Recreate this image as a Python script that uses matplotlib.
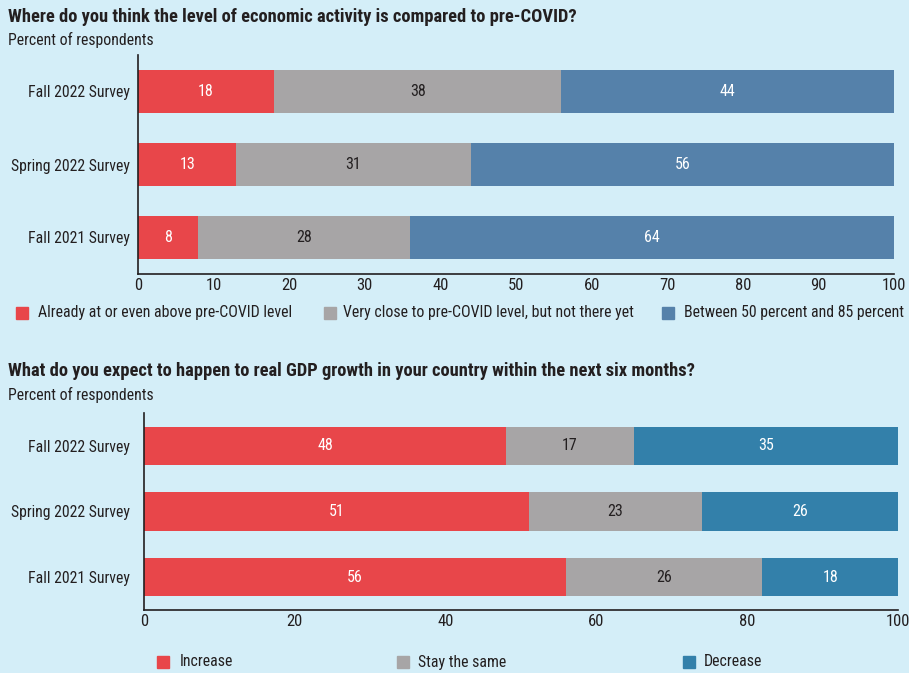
import matplotlib
matplotlib.use("Agg")
import matplotlib.pyplot as plt
from matplotlib import font_manager as fm

# ---------------- data ----------------
surveys = ["Fall 2021 Survey", "Spring 2022 Survey", "Fall 2022 Survey"]

top_title = "Where do you think the level of economic activity is compared to pre-COVID?"
top_labels = ["Already at or even above pre-COVID level",
              "Very close to pre-COVID level, but not there yet",
              "Between 50 percent and 85 percent"]
top_already = [8, 13, 18]
top_close = [28, 31, 38]
top_between = [64, 56, 44]
top_ticks = [0, 10, 20, 30, 40, 50, 60, 70, 80, 90, 100]

bot_title = "What do you expect to happen to real GDP growth in your country within the next six months?"
bot_labels = ["Increase", "Stay the same", "Decrease"]
bot_increase = [56, 51, 48]
bot_same = [26, 23, 17]
bot_decrease = [18, 26, 35]
bot_ticks = [0, 20, 40, 60, 80, 100]

subtitle = "Percent of respondents"

# ---------------- style ----------------
BG = "#D4EEF8"
RED = "#E8464A"
GRAY = "#A7A5A6"
BLUE1 = "#5581AA"
BLUE2 = "#3380AA"
TXT = "#231F20"

names = {f.name for f in fm.fontManager.ttflist}
cond = None
for cand in ["Roboto Condensed", "Liberation Sans Narrow", "DejaVu Sans Condensed",
             "Open Sans Condensed", "Noto Sans Condensed"]:
    if cand in names:
        cond = cand
        break
if cond is None:
    cond = "DejaVu Sans"
    SCALE = 0.78
else:
    SCALE = 1.0
plt.rcParams["font.family"] = [cond, "DejaVu Sans"]

fig = plt.figure(figsize=(9.09, 6.73), dpi=100)
fig.patch.set_facecolor(BG)

W, H = 909, 673
def ax_rect(l, r, t, b):
    return [l / W, 1 - b / H, (r - l) / W, (b - t) / H]

ax1 = fig.add_axes(ax_rect(138, 894, 55, 274))
ax2 = fig.add_axes(ax_rect(144, 898, 413, 610))

def draw(ax, series, colors, txtcolors, ticks, bh, ypad):
    y = list(range(len(surveys)))
    left = [0] * len(surveys)
    for vals, c, tc in zip(series, colors, txtcolors):
        ax.barh(y, vals, left=left, color=c, height=bh, edgecolor="none")
        for yi, l, v in zip(y, left, vals):
            ax.text(l + v / 2, yi, str(v), ha="center", va="center",
                    color=tc, fontsize=11.5 * SCALE)
        left = [a + b for a, b in zip(left, vals)]
    ax.set_xlim(0, 100)
    ax.set_ylim(-0.5, 2.5)
    ax.set_yticks(y)
    ax.set_yticklabels(surveys, fontsize=11.3 * SCALE, color=TXT)
    ax.set_xticks(ticks)
    ax.set_xticklabels([str(t) for t in ticks], fontsize=12 * SCALE, color=TXT)
    ax.tick_params(length=0)
    ax.tick_params(axis="x", pad=3)
    ax.tick_params(axis="y", pad=ypad)
    ax.set_facecolor(BG)
    for s in ["top", "right"]:
        ax.spines[s].set_visible(False)
    for s in ["left", "bottom"]:
        ax.spines[s].set_color(TXT)
        ax.spines[s].set_linewidth(1.2)

draw(ax1, [top_already, top_close, top_between], [RED, GRAY, BLUE1],
     ["white", TXT, "white"], top_ticks, 0.6, 6)
draw(ax2, [bot_increase, bot_same, bot_decrease], [RED, GRAY, BLUE2],
     ["white", TXT, "white"], bot_ticks, 0.58, 10)

# titles
fig.text(8 / W, 1 - 17 / H, top_title, fontsize=13.3 * SCALE, fontweight="bold",
         color=TXT, va="center", ha="left")
fig.text(8 / W, 1 - 40 / H, subtitle, fontsize=11.3 * SCALE, color=TXT, va="center", ha="left")
fig.text(8 / W, 1 - 371 / H, bot_title, fontsize=13.3 * SCALE, fontweight="bold",
         color=TXT, va="center", ha="left")
fig.text(8 / W, 1 - 395 / H, subtitle, fontsize=11.3 * SCALE, color=TXT, va="center", ha="left")

# legends (manual placement)
def legend_item(xsq, xtxt, y, color, label):
    fig.patches.append(plt.Rectangle(((xsq - 6) / W, 1 - (y + 6) / H), 12 / W, 12 / H,
                                     transform=fig.transFigure, color=color, figure=fig))
    fig.text(xtxt / W, 1 - y / H, label, fontsize=11.4 * SCALE, color=TXT,
             va="center", ha="left")

for xs, xt, c, lab in zip([22, 330, 668], [38, 343, 684], [RED, GRAY, BLUE1], top_labels):
    legend_item(xs, xt, 313, c, lab)
for xs, xt, c, lab in zip([163, 403, 689], [180, 418, 704], [RED, GRAY, BLUE2], bot_labels):
    legend_item(xs, xt, 662, c, lab)

fig.savefig("out.png", dpi=100, facecolor=BG)
